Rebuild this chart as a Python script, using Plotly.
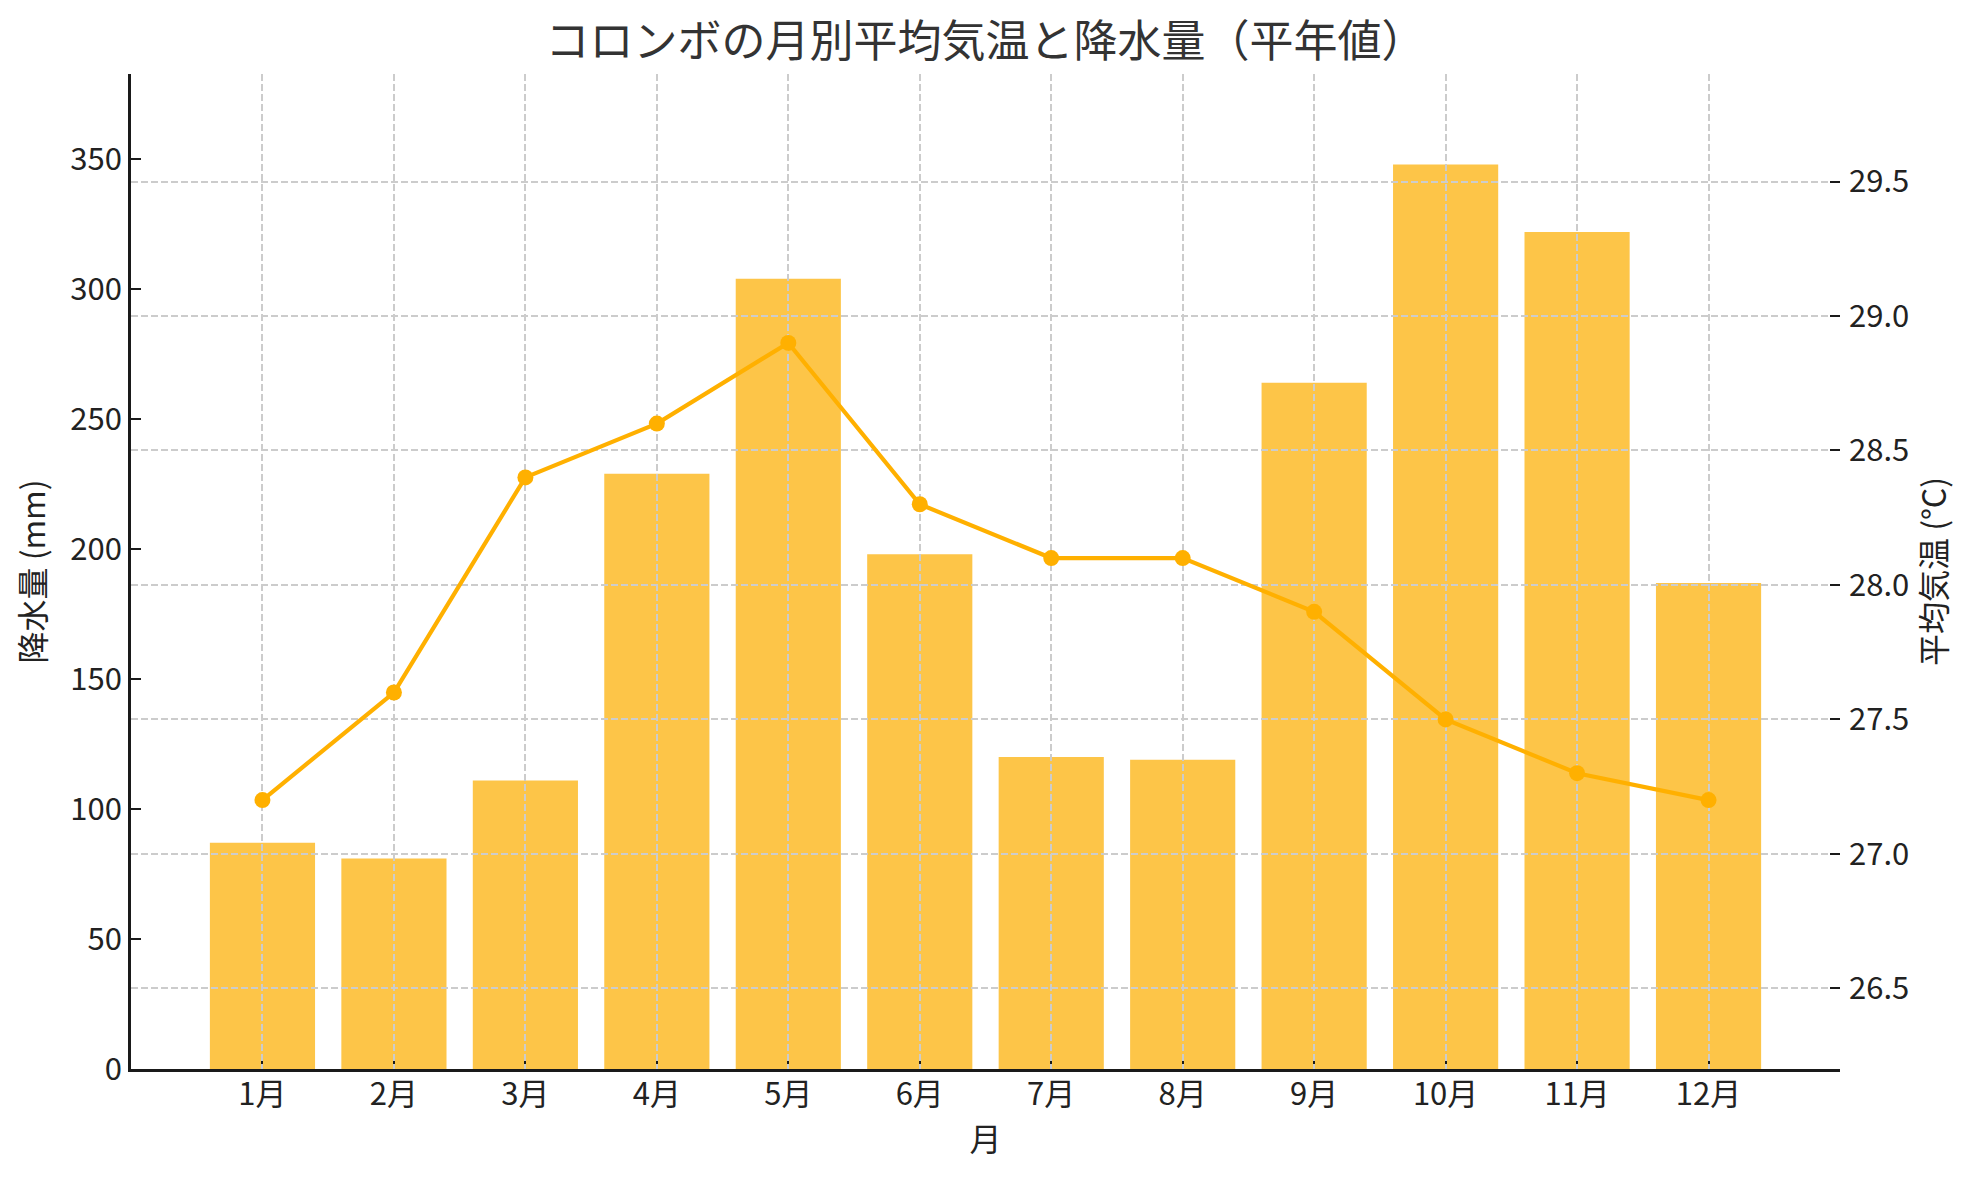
import plotly.graph_objects as go

# コロンボの月別平年値
months = ['1月', '2月', '3月', '4月', '5月', '6月', '7月', '8月', '9月', '10月', '11月', '12月']
rainfall_mm = [87, 81, 111, 229, 304, 198, 120, 119, 264, 348, 322, 187]
temp_c = [27.2, 27.6, 28.4, 28.6, 28.9, 28.3, 28.1, 28.1, 27.9, 27.5, 27.3, 27.2]

FONT = 'Noto Sans CJK JP'
BAR_COLOR = 'rgba(253, 181, 20, 0.78)'
LINE_COLOR = '#FFB000'
GRID_COLOR = '#cccccc'
AXIS_COLOR = '#1a1a1a'

rain_range = [0, max(rainfall_mm) * 1.1]
temp_range = [min(temp_c) - 1, max(temp_c) + 1]
x_range = [-1, len(months)]

fig = go.Figure()

# 降水量（棒） - 下の層
fig.add_trace(go.Bar(
    x=months, y=rainfall_mm, name='降水量',
    marker=dict(color=BAR_COLOR, line=dict(width=0)),
    width=0.8, xaxis='x', yaxis='y',
))

# 平均気温（折れ線） - グリッドより上の層
fig.add_trace(go.Scatter(
    x=months, y=temp_c, name='平均気温',
    mode='lines+markers',
    line=dict(color=LINE_COLOR, width=4.2),
    marker=dict(color=LINE_COLOR, size=16),
    xaxis='x2', yaxis='y2',
))

tick_font = dict(family=FONT, size=31, color='#222222')
label_font = dict(family=FONT, size=32, color='#222222')

# ページ本体の余白(8px)を差し引いたサイズ
fig.update_layout(
    width=1964, height=1164,
    margin=dict(l=123, r=132, t=66, b=103),
    paper_bgcolor='white',
    plot_bgcolor='rgba(0,0,0,0)',
    showlegend=False,
    font=dict(family=FONT),
    title=dict(
        text='コロンボの月別平均気温と降水量（平年値）',
        x=(123 + 1709 / 2) / 1964, xanchor='center', y=1 - 34 / 1164, yanchor='middle',
        font=dict(family=FONT, size=44, color='#333333'),
    ),
    # 棒グラフ用の軸（目盛り・軸線あり、グリッドなし）
    xaxis=dict(
        type='category', range=x_range, domain=[0, 1], anchor='y',
        showgrid=False, showline=True, linecolor=AXIS_COLOR, linewidth=2.7,
        ticks='inside', ticklen=10, tickwidth=2, tickcolor=AXIS_COLOR,
        tickfont=tick_font, ticklabelstandoff=-4,
        title=dict(text='月', font=label_font, standoff=16),
        zeroline=False,
    ),
    yaxis=dict(
        range=rain_range, dtick=50, anchor='x', side='left',
        showgrid=False, showline=True, linecolor=AXIS_COLOR, linewidth=2.7,
        ticks='inside', ticklen=10, tickwidth=2, tickcolor=AXIS_COLOR,
        tickfont=tick_font, ticklabelstandoff=0,
        title=dict(text='降水量 (mm)', font=label_font, standoff=23),
        zeroline=False,
    ),
    # 折れ線用の軸（グリッドは棒の上に描く）
    xaxis2=dict(
        type='category', range=x_range, domain=[0, 1], anchor='y2',
        categoryorder='array', categoryarray=months,
        showgrid=True, gridcolor=GRID_COLOR, gridwidth=1.5, griddash='7px,3px',
        showticklabels=False, ticks='', showline=False, zeroline=False,
    ),
    yaxis2=dict(
        range=temp_range, dtick=0.5, tickformat='.1f', anchor='x2', side='right',
        showgrid=True, gridcolor=GRID_COLOR, gridwidth=1.5, griddash='7px,3px',
        showline=False, ticks='inside', ticklen=10, tickwidth=2, tickcolor=AXIS_COLOR,
        tickfont=tick_font, ticklabelstandoff=8,
        title=dict(text='平均気温 (°C)', font=label_font, standoff=14),
        zeroline=False,
    ),
    # 降水量のグリッド線（y2に重ねる）
    yaxis3=dict(
        range=rain_range, dtick=50, anchor='x2', overlaying='y2', side='left',
        showgrid=True, gridcolor=GRID_COLOR, gridwidth=1.5, griddash='7px,3px',
        showticklabels=False, ticks='', showline=False, zeroline=False,
    ),
)

fig.write_html('out.html')
